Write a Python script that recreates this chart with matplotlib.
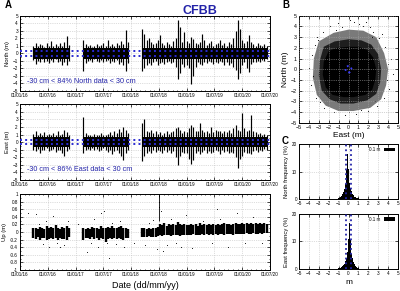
import numpy as np
import matplotlib
matplotlib.use('Agg')
import matplotlib.pyplot as plt
from matplotlib.patches import Polygon, Circle, Patch
from matplotlib.ticker import MultipleLocator

plt.rcParams['font.family'] = ['Liberation Sans', 'DejaVu Sans']

# GNSS daily solutions, summarised as one min / max value every 0.04 yr
seg_start = [2016.24, 2017.14, 2018.20]
step = 0.04

north_hi = [
    [1.0, 1.3, 0.9, 1.2, 1.1, 0.8, 1.4, 1.0, 1.6, 0.9, 1.2, 1.0, 1.3, 0.9, 1.5, 2.3, 1.1],
    [1.8, 1.2, 0.9, 1.1, 0.8, 1.0, 1.2, 0.9, 1.1, 1.3, 1.0, 1.7, 1.0, 1.2, 0.9, 1.4, 1.1, 1.6, 1.2, 3.1, 1.5],
    [3.2, 2.5, 1.8, 2.0, 1.5, 1.2, 1.4, 1.8, 2.4, 1.3, 1.1, 1.5, 1.2, 1.0, 1.6, 2.0, 4.4, 3.5, 1.5, 2.8,
     1.6, 1.3, 2.2, 1.9, 1.4, 1.2, 1.5, 2.6, 1.8, 1.1, 1.3, 1.6, 1.0, 1.2, 1.4, 1.8, 1.1, 1.3, 1.0, 1.5,
     1.2, 2.0, 3.0, 4.4, 3.2, 1.8, 1.4, 1.6, 2.4, 1.5, 1.2, 1.0, 1.3, 1.1, 0.9, 1.2, 1.0],
]
north_lo = [
    [-0.9, -1.4, -1.0, -1.1, -0.8, -1.2, -1.0, -1.3, -0.9, -1.1, -0.8, -1.2, -1.0, -1.5, -1.1, -1.6, -1.0],
    [-2.3, -1.3, -1.0, -0.9, -1.2, -0.8, -1.0, -1.1, -0.9, -1.2, -1.0, -0.9, -1.3, -1.0, -1.1, -0.9, -1.4, -1.2, -1.6, -2.4, -1.3],
    [-2.4, -2.0, -1.5, -1.3, -1.6, -1.2, -1.0, -1.5, -1.3, -1.1, -1.4, -1.2, -1.0, -1.3, -1.1, -1.8, -3.4, -2.6, -1.4, -1.8,
     -1.5, -2.0, -4.1, -3.0, -1.8, -1.2, -1.4, -1.5, -1.1, -1.3, -1.0, -1.2, -1.4, -1.1, -1.3, -1.0, -1.2, -1.5, -1.1, -1.5,
     -1.3, -1.8, -2.2, -3.4, -2.6, -1.6, -1.2, -1.9, -2.5, -1.4, -1.1, -1.2, -1.0, -1.1, -0.9, -1.0, -0.8],
]
east_hi = [
    [1.1, 1.5, 0.9, 1.2, 1.0, 1.3, 0.9, 1.1, 1.0, 1.2, 0.9, 1.4, 1.0, 1.1, 1.6, 1.3, 1.0],
    [3.3, 1.2, 0.9, 1.0, 0.8, 1.1, 0.9, 1.0, 1.2, 0.9, 1.0, 1.1, 1.3, 1.0, 1.5, 1.2, 1.7, 1.3, 2.0, 1.6, 1.2],
    [2.5, 3.0, 1.5, 1.3, 1.6, 1.2, 1.4, 1.1, 1.3, 1.0, 1.2, 1.4, 1.1, 1.3, 1.5, 1.8, 2.0, 1.6, 1.2, 1.5,
     1.3, 1.8, 2.3, 2.0, 1.5, 1.4, 2.5, 1.6, 1.3, 1.5, 1.2, 2.0, 1.3, 1.6, 1.4, 1.5, 1.2, 1.4, 1.3, 1.6,
     1.2, 1.8, 2.2, 1.6, 1.4, 3.9, 1.8, 1.5, 1.6, 3.6, 1.4, 1.3, 1.1, 1.2, 1.0, 1.1, 0.9],
]
east_lo = [
    [-1.0, -1.2, -0.9, -1.5, -1.0, -1.1, -0.8, -1.2, -1.0, -0.9, -1.3, -1.0, -1.1, -1.4, -1.8, -1.2, -0.9],
    [-1.5, -1.0, -0.9, -1.1, -0.8, -1.0, -0.9, -1.2, -1.0, -0.8, -1.1, -1.3, -1.0, -1.6, -1.2, -1.0, -1.4, -1.8, -2.4, -1.5, -1.1],
    [-2.5, -1.8, -1.4, -1.2, -1.5, -1.1, -1.3, -1.0, -1.2, -1.4, -1.1, -1.3, -1.0, -1.5, -1.2, -2.0, -3.0, -1.8, -1.3, -1.5,
     -1.4, -2.2, -2.9, -2.4, -1.5, -1.2, -1.6, -1.3, -1.1, -1.4, -1.2, -1.5, -1.3, -1.0, -1.2, -1.6, -1.1, -1.3, -1.2, -1.4,
     -1.3, -1.5, -2.0, -3.5, -2.2, -1.8, -1.3, -1.5, -1.4, -1.6, -1.2, -1.1, -1.3, -1.0, -1.2, -0.9, -1.0],
]
up_hi = [
    [0.10, 0.12, 0.08, 0.14, 0.10, 0.09, 0.15, 0.11, 0.13, 0.10, 0.18, 0.12, 0.09, 0.14, 0.11, 0.16, 0.10],
    [0.12, 0.08, 0.10, 0.09, 0.13, 0.10, 0.11, 0.08, 0.15, 0.12, 0.10, 0.14, 0.11, 0.16, 0.12, 0.10, 0.13, 0.15, 0.11, 0.12, 0.09],
    [0.12, 0.10, 0.08, 0.11, 0.09, 0.12, 0.10, 0.14, 0.20, 0.18, 0.24, 0.17, 0.20, 0.18, 0.22, 0.19, 0.26, 0.22, 0.19, 0.21,
     0.19, 0.18, 0.22, 0.19, 0.20, 0.17, 0.23, 0.19, 0.21, 0.18, 0.20, 0.19, 0.22, 0.19, 0.21, 0.19, 0.20, 0.23, 0.20, 0.21,
     0.19, 0.22, 0.24, 0.20, 0.22, 0.23, 0.21, 0.24, 0.22, 0.25, 0.21, 0.23, 0.22, 0.24, 0.21, 0.23, 0.22],
]
up_lo = [
    [-0.15, -0.18, -0.14, -0.20, -0.16, -0.15, -0.22, -0.17, -0.15, -0.19, -0.16, -0.21, -0.15, -0.18, -0.17, -0.20, -0.14],
    [-0.22, -0.16, -0.15, -0.18, -0.14, -0.17, -0.15, -0.20, -0.16, -0.18, -0.25, -0.17, -0.15, -0.19, -0.16, -0.18, -0.15, -0.17, -0.20, -0.16, -0.15],
    [-0.14, -0.12, -0.13, -0.11, -0.14, -0.12, -0.13, -0.10, -0.08, -0.10, -0.07, -0.09, -0.08, -0.10, -0.07, -0.09, -0.08, -0.10, -0.07, -0.09,
     -0.08, -0.07, -0.09, -0.06, -0.08, -0.07, -0.09, -0.06, -0.08, -0.05, -0.07, -0.06, -0.08, -0.05, -0.07, -0.06, -0.05, -0.07, -0.04, -0.06,
     -0.05, -0.07, -0.04, -0.06, -0.05, -0.04, -0.05, -0.03, -0.05, -0.04, -0.03, -0.05, -0.04, -0.02, -0.04, -0.03, -0.03],
]
# isolated Up solutions (date, value) and the large jump of July 2018
up_out_t = [2016.28, 2016.35, 2016.42, 2016.47, 2016.53, 2016.6, 2016.66, 2016.72, 2016.8, 2016.86,
            2017.05, 2017.2, 2017.27, 2017.33, 2017.4, 2017.46, 2017.52, 2017.56, 2017.6, 2017.66, 2017.72, 2017.8, 2017.88,
            2018.05, 2018.25, 2018.32, 2018.4, 2018.47, 2018.5, 2018.5, 2018.5, 2018.53, 2018.58, 2018.65, 2018.72, 2018.8, 2018.9, 2018.98,
            2019.1, 2019.3, 2019.45, 2019.6, 2019.75, 2019.9, 2020.05, 2020.2, 2020.35, 2016.15, 2019.55]
up_out_v = [0.48, 0.22, -0.32, 0.3, -0.38, 0.42, -0.3, -0.4, -0.35, 0.28,
            0.2, -0.52, -0.3, 0.35, -0.38, 0.5, 0.55, -0.28, -0.68, 0.25, -0.32, 0.3, -0.4,
            -0.3, -0.35, 0.25, 0.32, -0.45, 0.95, 0.8, 0.65, 0.55, -0.5, -0.35, 0.35, -0.3, -0.4, 0.45,
            -0.42, 0.3, -0.3, 0.35, -0.38, 0.5, -0.28, 0.4, -0.3, 0.5, 0.62]
up_jump_t, up_jump_lo, up_jump_hi = 2018.5, 0.3, 1.0
core_half = 0.7  # dense part of the N/E series (m)

date_ticks = [2016.0, 2016.5, 2017.0, 2017.5, 2018.0, 2018.5, 2019.0, 2019.5, 2020.0, 2020.5]
date_labels = ['01/01/16', '01/07/16', '01/01/17', '01/07/17', '01/01/18',
               '01/07/18', '01/01/19', '01/07/19', '01/01/20', '01/07/20']

# panel B : outline of the point cloud (East, North), dense core to sparse halo
cloud_core = [(-2.0, 1.7), (-1.2, 2.0), (0.0, 2.1), (1.0, 2.1), (1.9, 1.8), (2.5, 1.1), (2.8, 0.0), (2.7, -1.0),
              (2.4, -1.9), (1.7, -2.4), (0.5, -2.6), (-0.5, -2.6), (-1.6, -2.4), (-2.3, -1.7), (-2.6, -0.5), (-2.5, 0.7)]
cloud_mid = [(-2.5, 2.1), (-1.4, 2.6), (0.0, 2.8), (1.3, 2.7), (2.3, 2.3), (3.0, 1.4), (3.3, 0.0), (3.2, -1.2),
             (2.8, -2.3), (1.9, -2.9), (0.5, -3.2), (-0.8, -3.2), (-1.9, -2.8), (-2.7, -2.0), (-3.0, -0.6), (-2.9, 0.8)]
cloud_out = [(-3.0, 2.6), (-1.5, 3.4), (0.0, 3.7), (1.5, 3.6), (2.8, 3.0), (3.6, 1.5), (4.0, 0.0), (3.8, -1.5),
             (3.3, -2.8), (2.2, -3.6), (0.5, -3.9), (-1.0, -3.9), (-2.3, -3.4), (-3.2, -2.4), (-3.6, -0.8), (-3.5, 1.0)]
b_out_e = [-3.2, -2.6, -1.9, -1.1, 0.2, 1.1, 1.8, 2.5, 3.1, 3.7, 4.3, 4.5, 4.1, 3.6, 2.9, 2.0, 0.8, -0.4, -1.5, -2.5,
           -3.3, -3.8, -4.0, -3.7, -3.4, 1.5, 2.2, 0.6, -0.7, 3.4, 3.9, -2.9, -3.1, 2.7, 1.3, -1.3, 0.0, 4.0, -3.6, 2.4]
b_out_n = [3.0, 3.5, 4.0, 4.3, 4.6, 4.2, 4.4, 3.5, 2.9, 2.1, 1.0, -0.4, -1.8, -2.7, -3.4, -3.9, -4.2, -4.3, -4.0, -3.6,
           -2.7, -1.5, 0.1, 1.3, 2.3, 4.0, 3.9, 4.4, 3.9, 3.3, -1.0, -3.1, 2.7, -3.0, -3.8, 3.7, -4.0, 0.5, -0.6, 3.0]

# panel C : histograms, 0.1 m bins
hist_centers = [-1.0, -0.9, -0.8, -0.7, -0.6, -0.5, -0.4, -0.3, -0.2, -0.1, 0.0,
                0.1, 0.2, 0.3, 0.4, 0.5, 0.6, 0.7, 0.8, 0.9, 1.0]
north_freq = [0.3, 0.5, 0.8, 1.2, 1.8, 2.6, 3.8, 5.5, 10.5, 16.5, 11.0,
              6.0, 4.0, 2.8, 1.9, 1.3, 0.9, 0.6, 0.4, 0.3, 0.2]
east_freq = [0.2, 0.3, 0.4, 0.6, 0.9, 1.3, 1.9, 2.8, 4.0, 6.0, 11.0,
             16.8, 10.5, 5.5, 3.8, 2.6, 1.8, 1.2, 0.8, 0.5, 0.3]

blue = '#2323a8'
grid_kw = dict(color='#bdbdbd', linestyle=':', linewidth=0.5)
fs_tick = 3.3


def style(ax):
    ax.tick_params(which='both', direction='in', top=True, right=True, labelsize=fs_tick,
                   width=0.5, pad=1.5)
    ax.tick_params(which='major', length=2.0)
    ax.tick_params(which='minor', length=1.0)
    for s in ax.spines.values():
        s.set_linewidth(0.7)


def series_axis(ax):
    ax.set_xlim(2016.0, 2020.5)
    ax.set_xticks(date_ticks)
    ax.set_xticklabels(date_labels)
    ax.xaxis.set_minor_locator(MultipleLocator(1 / 12))
    ax.grid(True, **grid_kw)
    style(ax)


def draw_ne(ax, hi, lo):
    for start, h, l in zip(seg_start, hi, lo):
        t = start + step * np.arange(len(h))
        ax.fill_between(t, -core_half, core_half, color='black', lw=0, zorder=2)
        ax.vlines(t, l, h, color='black', lw=0.85, zorder=2)


fig = plt.figure(figsize=(4.0, 2.91), dpi=100)

axN = fig.add_axes([0.05, 0.688, 0.625, 0.258])
axE = fig.add_axes([0.05, 0.383, 0.625, 0.258])
axU = fig.add_axes([0.05, 0.072, 0.625, 0.261])
axB = fig.add_axes([0.7475, 0.578, 0.2475, 0.368])
axC1 = fig.add_axes([0.7475, 0.316, 0.2475, 0.189])
axC2 = fig.add_axes([0.7475, 0.076, 0.2475, 0.189])

for ax, hi, lo, name, pct in [(axN, north_hi, north_lo, 'North', '84%'),
                              (axE, east_hi, east_lo, 'East', '86%')]:
    draw_ne(ax, hi, lo)
    ax.axhline(0.3, color='#2a2ad0', ls=':', lw=1.4, zorder=3)
    ax.axhline(-0.3, color='#2a2ad0', ls=':', lw=1.4, zorder=3)
    series_axis(ax)
    ax.set_ylim(-5, 5)
    ax.set_yticks(range(-5, 6))
    ax.yaxis.set_minor_locator(MultipleLocator(0.5))
    ax.set_ylabel(name + ' (m)', fontsize=4.2, labelpad=2)
    ax.text(2016.13, -3.7, '-30 cm < ' + pct + ' ' + name + ' data < 30 cm',
            color=blue, fontsize=5.2, va='center')

for start, h, l in zip(seg_start, up_hi, up_lo):
    t = start + step * np.arange(len(h))
    axU.vlines(t, l, h, color='black', lw=1.7, zorder=2)
axU.vlines(up_jump_t, up_jump_lo, up_jump_hi, color='black', lw=0.6, zorder=2)
axU.scatter(up_out_t, up_out_v, s=0.4, color='black', lw=0, zorder=2)
series_axis(axU)
axU.set_ylim(-1, 1)
axU.set_yticks(np.round(np.arange(-1, 1.01, 0.2), 1))
axU.set_yticklabels(['-1', '-0.8', '-0.6', '-0.4', '-0.2', '0', '0.2', '0.4', '0.6', '0.8', '1'])
axU.yaxis.set_minor_locator(MultipleLocator(0.1))
axU.set_ylabel('Up (m)', fontsize=4.2, labelpad=2)
axU.set_xlabel('Date (dd/mm/yy)', fontsize=6.5, labelpad=3)

# panel B
axB.add_patch(Polygon(cloud_out, closed=True, facecolor='#7a7a7a', edgecolor='none', zorder=1))
axB.add_patch(Polygon(cloud_mid, closed=True, facecolor='#1e1e1e', edgecolor='none', zorder=1))
axB.add_patch(Polygon(cloud_core, closed=True, facecolor='black', edgecolor='none', zorder=1))
axB.scatter(b_out_e, b_out_n, s=0.6, color='black', lw=0, zorder=1)
axB.add_patch(Circle((0, 0), 0.3, fill=False, edgecolor='#3b3bff', ls=':', lw=1.3, zorder=3))
axB.set_xlim(-5, 5)
axB.set_ylim(-5, 5)
axB.set_xticks(range(-5, 6))
axB.set_yticks(range(-5, 6))
axB.grid(True, color='#a8a8a8', linestyle=':', linewidth=0.5, zorder=2)
axB.set_axisbelow(False)
style(axB)
axB.tick_params(labelsize=3.8)
axB.set_xlabel('East (m)', fontsize=6, labelpad=1.5)
axB.set_ylabel('North (m)', fontsize=6, labelpad=1.5)

# panel C
for ax, freq, name in [(axC1, north_freq, 'North'), (axC2, east_freq, 'East')]:
    ax.bar(hist_centers, freq, width=0.1, color='black', lw=0, zorder=2)
    ax.axvline(-0.3, color=blue, ls=':', lw=1.3, zorder=3)
    ax.axvline(0.3, color=blue, ls=':', lw=1.3, zorder=3)
    ax.set_xlim(-5, 5)
    ax.set_ylim(0, 20)
    ax.set_xticks(range(-5, 6))
    ax.set_yticks([0, 10, 20])
    ax.grid(True, **grid_kw)
    style(ax)
    ax.set_ylabel(name + ' frequency (%)', fontsize=4.2, labelpad=2)
    ax.legend(handles=[Patch(facecolor='black')], labels=['0.1 m'], loc='upper right',
              frameon=False, fontsize=3.3, markerfirst=False, handlelength=2.5,
              handleheight=0.7, borderaxespad=0.2)
axC2.set_xlabel('m', fontsize=6, labelpad=2)

fig.text(0.5, 0.963, 'CFBB', color=blue, fontsize=9, fontweight='bold', ha='center', va='center')
fig.text(0.012, 0.983, 'A', fontsize=7, fontweight='bold', va='center')
fig.text(0.705, 0.983, 'B', fontsize=7, fontweight='bold', va='center')
fig.text(0.705, 0.515, 'C', fontsize=7, fontweight='bold', va='center')

plt.savefig('out.png', dpi=100)
plt.close()
